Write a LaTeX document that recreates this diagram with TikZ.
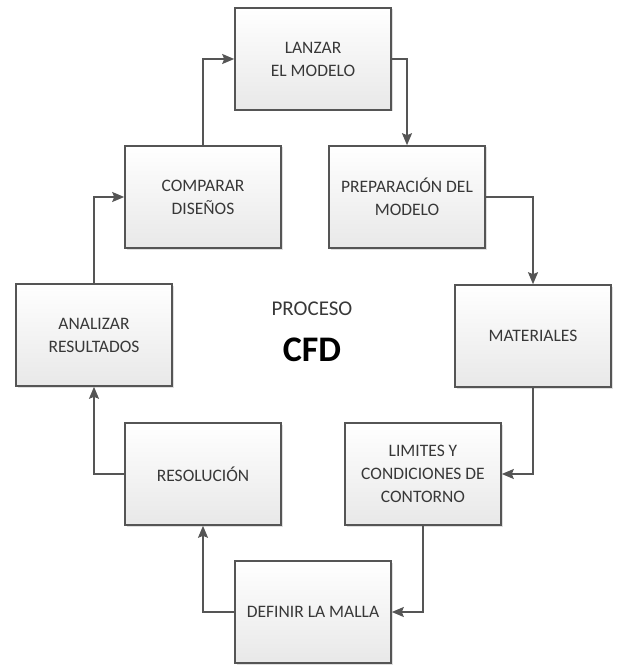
\documentclass[tikz,border=0pt]{standalone}
\usepackage{fontspec}
\setmainfont{Carlito}
\usetikzlibrary{arrows.meta,shadows}

\definecolor{boxline}{HTML}{555555}
\definecolor{boxtext}{HTML}{383838}

\tikzset{
  paso/.style={rectangle, draw=boxline, line width=1.6pt, top color=white, bottom color=gray!18,
    drop shadow={shadow xshift=1.5pt, shadow yshift=-1.5pt, opacity=0.25},
    minimum width=156pt, minimum height=102pt, align=center, text=boxtext,
    font=\fontsize{17.5}{23}\selectfont},
  flecha/.style={draw=boxline, line width=1.6pt, -{Stealth[length=12pt,width=10pt,inset=2pt]}}
}

\begin{document}
\begin{tikzpicture}[x=1pt,y=-1pt]
\useasboundingbox (0,0) rectangle (616,668);

\node[paso] (Lanzar) at (313,59) {LANZAR\\EL MODELO};
\node[paso] (Comparar) at (203,197) {COMPARAR\\DISEÑOS};
\node[paso] (Prep) at (407,197) {PREPARACIÓN DEL\\MODELO};
\node[paso] (Analizar) at (94,335) {ANALIZAR\\RESULTADOS};
\node[paso] (Mat) at (533,336) {MATERIALES};
\node[paso] (Resol) at (203,474) {RESOLUCIÓN};
\node[paso] (Lim) at (423,474) {LIMITES Y\\CONDICIONES DE\\CONTORNO};
\node[paso] (Malla) at (313,612) {DEFINIR LA MALLA};

\node[text=boxtext, font=\fontsize{21}{24}\selectfont] (Proceso) at (312,309) {PROCESO};
\node[font=\fontsize{36}{40}\selectfont\bfseries] (CFD) at (312,350) {CFD};

% ciclo
\draw[flecha] (Comparar.north) |- (Lanzar.west);
\draw[flecha] (Lanzar.east) -| (Prep.north);
\draw[flecha] (Prep.east) -| (Mat.north);
\draw[flecha] (Mat.south) |- (Lim.east);
\draw[flecha] (Lim.south) |- (Malla.east);
\draw[flecha] (Malla.west) -| (Resol.south);
\draw[flecha] (Resol.west) -| (Analizar.south);
\draw[flecha] (Analizar.north) |- (Comparar.west);
\end{tikzpicture}
\end{document}
